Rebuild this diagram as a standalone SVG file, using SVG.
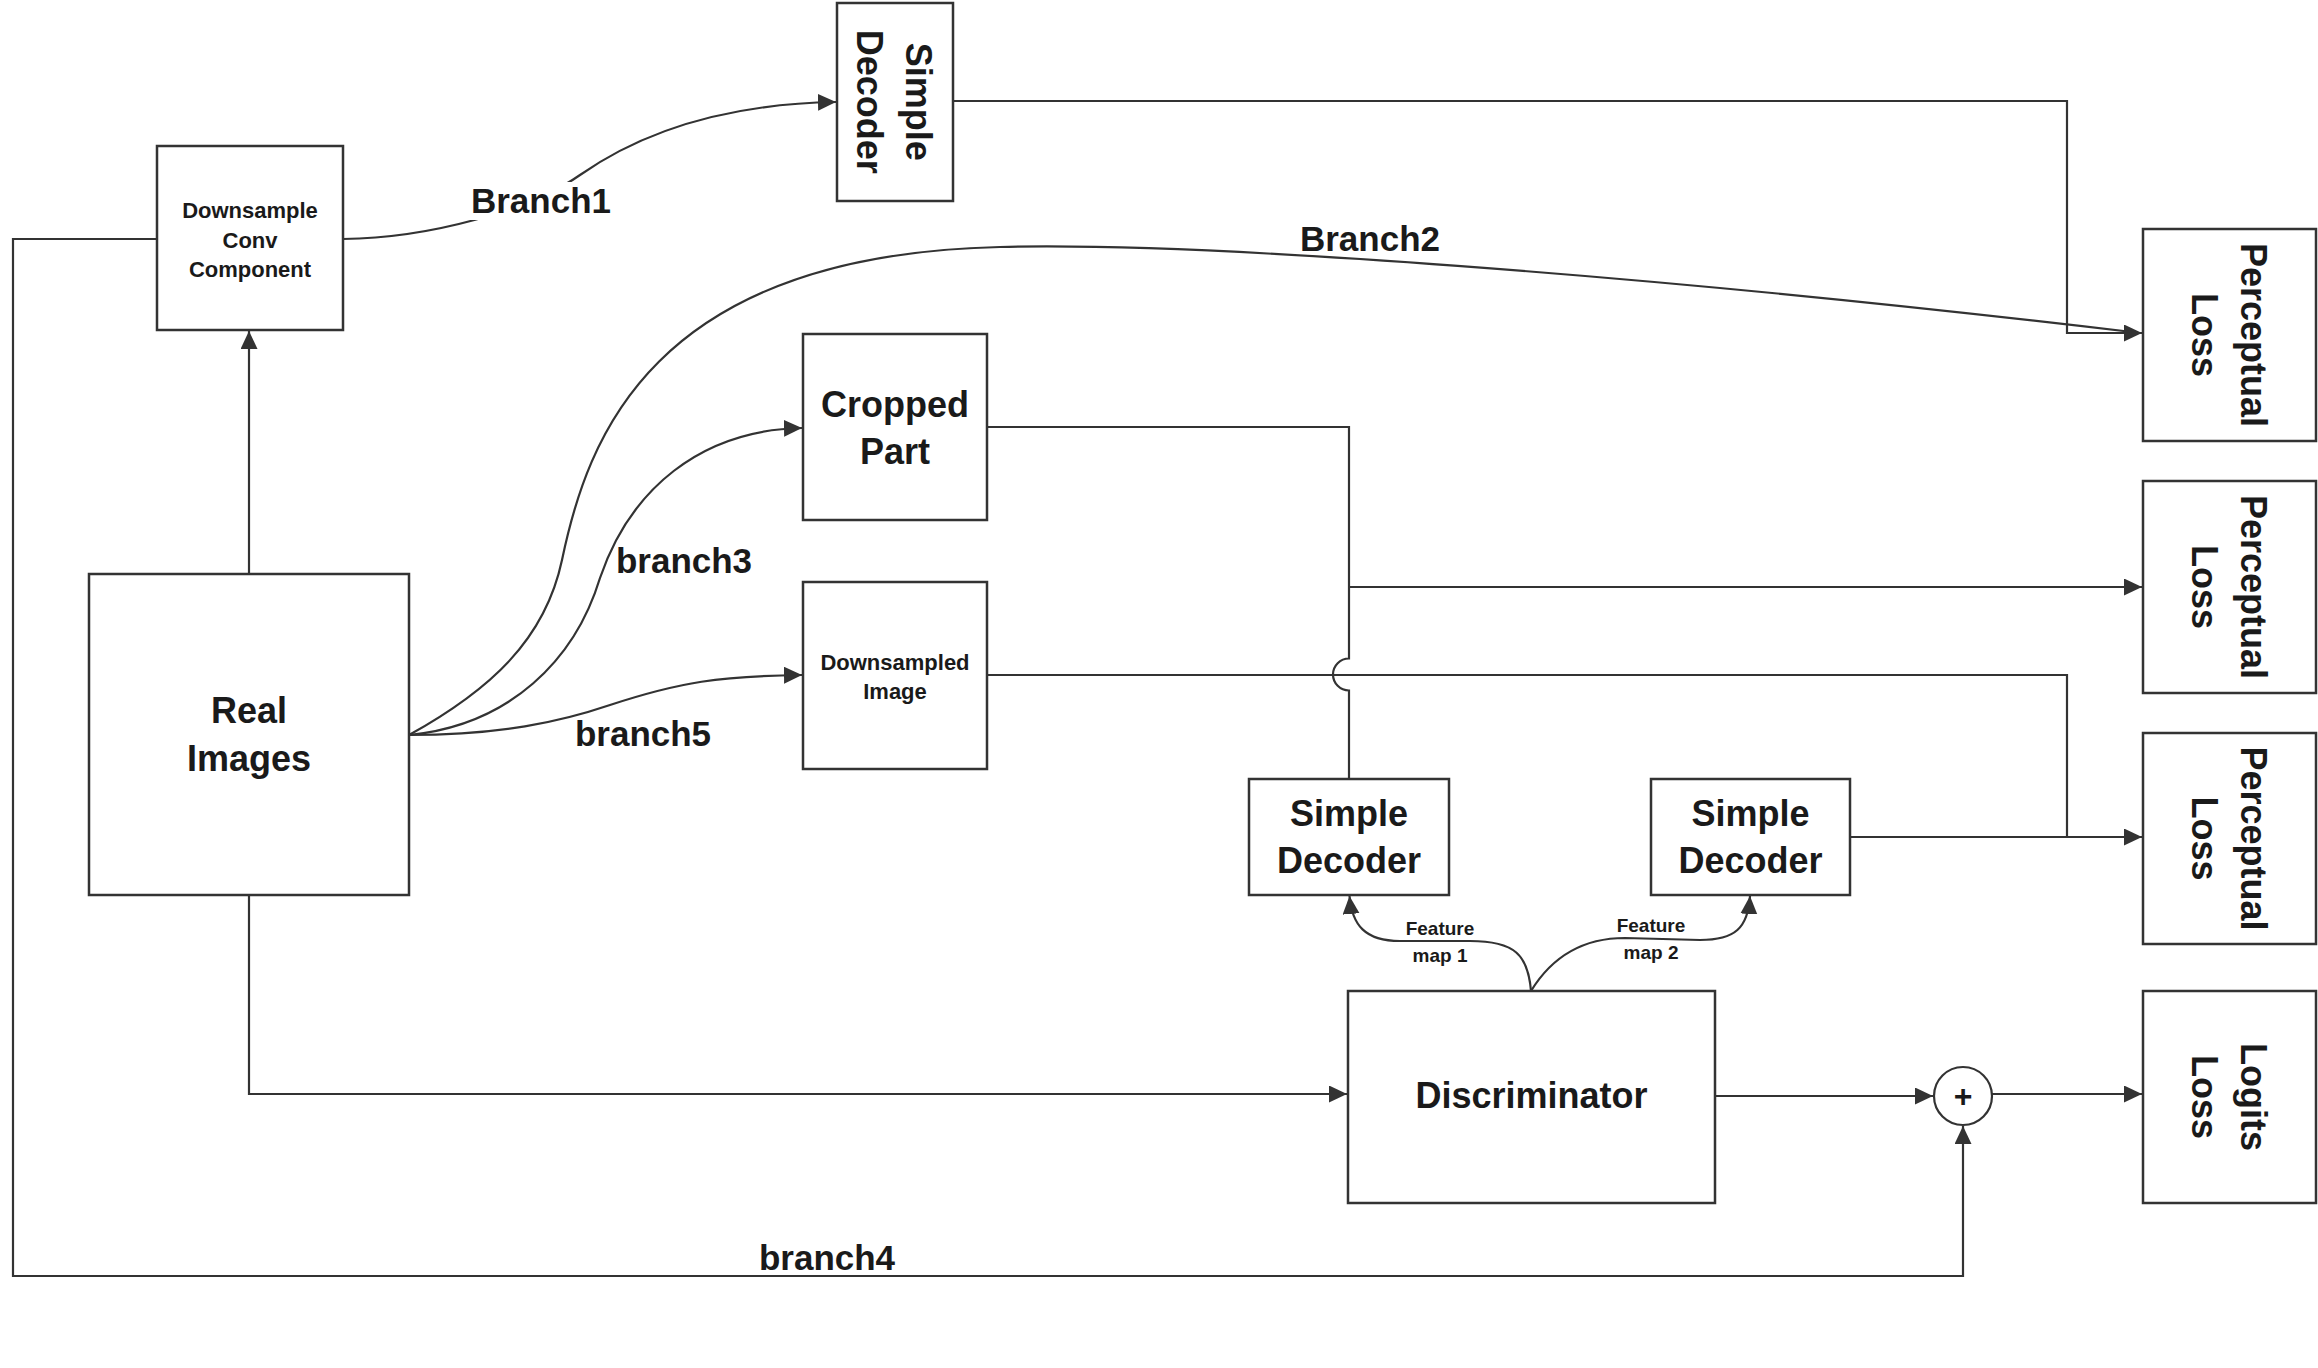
<svg xmlns="http://www.w3.org/2000/svg" width="2318" height="1368" viewBox="0 0 2318 1368">
<style>
  .box{fill:#fff;stroke:#333;stroke-width:2.5}
  .ln{fill:none;stroke:#333;stroke-width:2.2}
  .t{font-family:"Liberation Sans",Arial,sans-serif;font-weight:bold;fill:#1a1a1a;text-anchor:middle}
  .big{font-size:36px}
  .mid{font-size:35px}
  .sm{font-size:22px}
  .xs{font-size:19px}
</style>
<defs>
  <marker id="ah" markerUnits="userSpaceOnUse" markerWidth="20" markerHeight="20" refX="18" refY="8.5" orient="auto">
    <path d="M0,0 L18,8.5 L0,17 z" fill="#333"/>
  </marker>
</defs>
<rect width="2318" height="1368" fill="#fff"/>

<g id="connectors">
  <!-- Real -> Downsample conv -->
  <path class="ln" d="M249,574 L249,331" marker-end="url(#ah)"/>
  <!-- Branch1 -->
  <path class="ln" d="M343,239 C430,238 530,210 580,175 C640,133 720,104 836,102" marker-end="url(#ah)"/>
  <!-- Downsample conv -> branch4 -> plus -->
  <path class="ln" d="M157,239 L13,239 L13,1276 L1963,1276 L1963,1126" marker-end="url(#ah)"/>
  <!-- Simple decoder top -> PL1 -->
  <path class="ln" d="M953,101 L2067,101 L2067,333 L2142,333" marker-end="url(#ah)"/>
  <!-- Branch2 -->
  <path class="ln" d="M409,735 C490,690 545,640 562,560 C587,440 650,255 1000,247 C1200,242 1643,274 2132,332"/>
  <!-- branch3 -->
  <path class="ln" d="M409,735 C510,725 575,660 600,578 C630,490 700,430 802,428" marker-end="url(#ah)"/>
  <!-- branch5 -->
  <path class="ln" d="M409,735 C500,735 560,722 610,705 C680,682 720,676 802,675" marker-end="url(#ah)"/>
  <!-- Cropped part -> down with jump -> SD1 -->
  <path class="ln" d="M987,427 L1349,427 L1349,658.5 A16,16 0 0 0 1349,690.5 L1349,779"/>
  <!-- to PL2 -->
  <path class="ln" d="M1349,587 L2142,587" marker-end="url(#ah)"/>
  <!-- Downsampled image -> PL3 -->
  <path class="ln" d="M987,675 L2067,675 L2067,837"/>
  <path class="ln" d="M1850,837 L2142,837" marker-end="url(#ah)"/>
  <!-- Real -> Discriminator -->
  <path class="ln" d="M249,895 L249,1094 L1347,1094" marker-end="url(#ah)"/>
  <!-- Discriminator -> plus -->
  <path class="ln" d="M1715,1096 L1933,1096" marker-end="url(#ah)"/>
  <!-- plus -> Logits -->
  <path class="ln" d="M1992,1094 L2142,1094" marker-end="url(#ah)"/>
  <!-- Feature maps -->
  <path class="ln" d="M1531,991 C1528,955 1515,941 1470,941 L1400,941 C1365,941 1352,925 1349.5,896" marker-end="url(#ah)"/>
  <path class="ln" d="M1531,991 C1550,960 1580,938 1625,938 L1700,940 C1735,940 1748,928 1750,896" marker-end="url(#ah)"/>
  <!-- labels -->
  <rect x="470" y="182" width="142" height="38" fill="#fff"/>
  <text class="t mid" x="541" y="213">Branch1</text>
  <text class="t mid" x="1370" y="251">Branch2</text>
  <text class="t mid" x="684" y="573">branch3</text>
  <text class="t mid" x="643" y="746">branch5</text>
  <text class="t mid" x="827" y="1270">branch4</text>
  <text class="t xs" x="1440" y="935">Feature</text>
  <text class="t xs" x="1440" y="962">map 1</text>
  <text class="t xs" x="1651" y="932">Feature</text>
  <text class="t xs" x="1651" y="959">map 2</text>
</g>

<g id="downsample-conv">
  <rect class="box" x="157" y="146" width="186" height="184"/>
  <text class="t sm" x="250" y="218">Downsample</text>
  <text class="t sm" x="250" y="248">Conv</text>
  <text class="t sm" x="250" y="277">Component</text>
</g>

<g id="simple-decoder-top">
  <rect class="box" x="837" y="3" width="116" height="198"/>
  <g transform="translate(895,101.7) rotate(90)">
    <text class="t big" x="0" y="-11">Simple</text>
    <text class="t big" x="0" y="38">Decoder</text>
  </g>
</g>

<g id="cropped-part">
  <rect class="box" x="803" y="334" width="184" height="186"/>
  <text class="t big" x="895" y="417">Cropped</text>
  <text class="t big" x="895" y="464">Part</text>
</g>

<g id="real-images">
  <rect class="box" x="89" y="574" width="320" height="321"/>
  <text class="t big" x="249" y="723">Real</text>
  <text class="t big" x="249" y="771">Images</text>
</g>

<g id="downsampled-image">
  <rect class="box" x="803" y="582" width="184" height="187"/>
  <text class="t sm" x="895" y="670">Downsampled</text>
  <text class="t sm" x="895" y="699">Image</text>
</g>

<g id="simple-decoder-1">
  <rect class="box" x="1249" y="779" width="200" height="116"/>
  <text class="t big" x="1349" y="826">Simple</text>
  <text class="t big" x="1349" y="873">Decoder</text>
</g>

<g id="simple-decoder-2">
  <rect class="box" x="1651" y="779" width="199" height="116"/>
  <text class="t big" x="1750.5" y="826">Simple</text>
  <text class="t big" x="1750.5" y="873">Decoder</text>
</g>

<g id="discriminator">
  <rect class="box" x="1348" y="991" width="367" height="212"/>
  <text class="t big" x="1531.5" y="1108">Discriminator</text>
</g>

<g id="plus">
  <circle cx="1963" cy="1096" r="29" fill="#fff" stroke="#333" stroke-width="2.2"/>
  <text class="t" x="1963" y="1107" font-size="32">+</text>
</g>

<g id="perceptual-loss-1">
  <rect class="box" x="2143" y="229" width="173" height="212"/>
  <g transform="translate(2229.5,335) rotate(90)">
    <text class="t big" x="0" y="-11">Perceptual</text>
    <text class="t big" x="0" y="38">Loss</text>
  </g>
</g>

<g id="perceptual-loss-2">
  <rect class="box" x="2143" y="481" width="173" height="212"/>
  <g transform="translate(2229.5,587) rotate(90)">
    <text class="t big" x="0" y="-11">Perceptual</text>
    <text class="t big" x="0" y="38">Loss</text>
  </g>
</g>

<g id="perceptual-loss-3">
  <rect class="box" x="2143" y="733" width="173" height="211"/>
  <g transform="translate(2229.5,838.5) rotate(90)">
    <text class="t big" x="0" y="-11">Perceptual</text>
    <text class="t big" x="0" y="38">Loss</text>
  </g>
</g>

<g id="logits-loss">
  <rect class="box" x="2143" y="991" width="173" height="212"/>
  <g transform="translate(2229.5,1097) rotate(90)">
    <text class="t big" x="0" y="-11">Logits</text>
    <text class="t big" x="0" y="38">Loss</text>
  </g>
</g>
</svg>
